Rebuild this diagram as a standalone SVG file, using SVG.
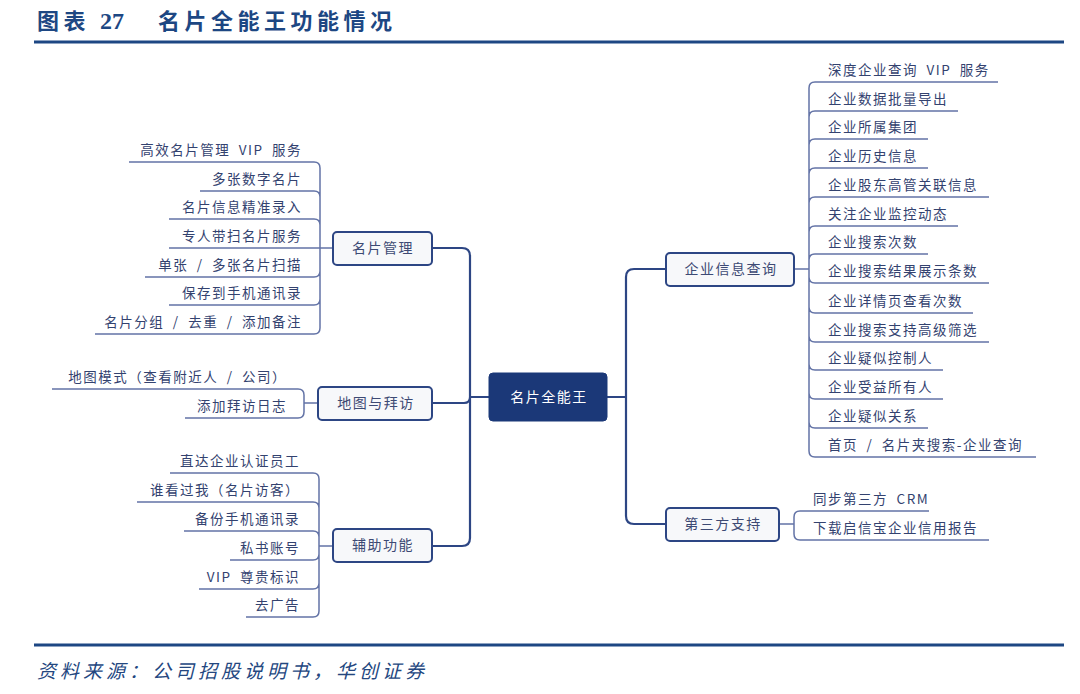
<svg xmlns="http://www.w3.org/2000/svg" width="1080" height="694" viewBox="0 0 1080 694">
<style>
.title{font-family:"Liberation Serif","Noto Sans CJK SC",serif;font-size:22px;font-weight:bold;fill:#1d4783;letter-spacing:4.5px}
.num{letter-spacing:0px;font-size:24px}
.rule{stroke:#1d4783;stroke-width:3;fill:none}
.foot{font-family:"Noto Sans CJK SC",sans-serif;font-size:19px;font-style:italic;fill:#24477f;letter-spacing:4px}
.trunk{stroke:#2d4684;stroke-width:2.2;fill:none}
.leaf{stroke:#6373a6;stroke-width:1.5;fill:none}
.box{fill:#f7f8fa;stroke:#2d4684;stroke-width:2}
.root{fill:#1b3878;stroke:#1b3878;stroke-width:1}
.bt{font-family:"Noto Sans CJK SC",sans-serif;font-size:14px;fill:#3d4a74;letter-spacing:1.5px;text-anchor:middle}
.rt{font-family:"Noto Sans CJK SC",sans-serif;font-size:14px;fill:#ffffff;letter-spacing:1.5px;text-anchor:middle}
.lt{font-family:"Noto Sans CJK SC",sans-serif;font-size:13.5px;fill:#33426f;letter-spacing:1.5px;word-spacing:4px}
.l{text-anchor:end}
</style>
<text class="title" x="37" y="29">图表</text>
<text class="title num" x="100" y="29">27</text>
<text class="title" x="158" y="29">名片全能王功能情况</text>
<line class="rule" x1="34" y1="42" x2="1064" y2="42"/>
<line class="rule" x1="34" y1="645" x2="1064" y2="645"/>
<text class="foot" x="37" y="678">资料来源：公司招股说明书，华创证券</text>

<g id="connectors">
<path class="trunk" d="M489 397 H470 M470 397 V256 Q470 248 462 248 H432 M470 397 Q470 403 464 403 H432 M470 397 V538 Q470 546 462 546 H432"/>
<path class="trunk" d="M607 397 H626 M626 397 V277 Q626 269 634 269 H666 M626 397 V516 Q626 524 634 524 H666"/>
<path class="leaf" d="M320 248 V168 Q320 162 314 162 H129 M320 248 V197 Q320 191 314 191 H200 M320 248 V225 Q320 219 314 219 H169 M333 248 H169 M320 248 V271 Q320 277 314 277 H145 M320 248 V299 Q320 305 314 305 H169 M320 248 V328 Q320 334 314 334 H95"/>
<path class="leaf" d="M318 403 H304 M304 403 V395 Q304 389 298 389 H52 M304 403 V412 Q304 418 298 418 H185"/>
<path class="leaf" d="M333 546 H319 M319 546 V479 Q319 473 313 473 H170 M319 546 V508 Q319 502 313 502 H137 M319 546 V537 Q319 531 313 531 H184 M319 546 V554 Q319 560 313 560 H230 M319 546 V583 Q319 589 313 589 H199 M319 546 V611 Q319 617 313 617 H246"/>
<path class="leaf" d="M794 269 H809 M809 269 V88 Q809 82 815 82 H998 M809 269 V117 Q809 111 815 111 H958 M809 269 V145 Q809 139 815 139 H928 M809 269 V174 Q809 168 815 168 H928 M809 269 V203 Q809 197 815 197 H989 M809 269 V232 Q809 226 815 226 H958 M809 269 V260 Q809 254 815 254 H928 M809 269 V277 Q809 283 815 283 H989 M809 269 V307 Q809 313 815 313 H973 M809 269 V336 Q809 342 815 342 H989 M809 269 V364 Q809 370 815 370 H943 M809 269 V393 Q809 399 815 399 H943 M809 269 V422 Q809 428 815 428 H928 M809 269 V451 Q809 457 815 457 H1036"/>
<path class="leaf" d="M779 524 H794 M794 524 V517 Q794 511 800 511 H929 M794 524 V534 Q794 540 800 540 H989"/>
</g>

<g id="root">
<rect class="root" x="489" y="373" width="118" height="48" rx="4"/>
<text class="rt" x="549" y="402">名片全能王</text>
</g>

<g id="mingpian">
<rect class="box" x="333" y="232" width="99" height="33" rx="4"/>
<text class="bt" x="383" y="253">名片管理</text>
<text class="lt l" x="302" y="155">高效名片管理 VIP 服务</text>
<text class="lt l" x="302" y="184">多张数字名片</text>
<text class="lt l" x="302" y="212">名片信息精准录入</text>
<text class="lt l" x="302" y="241">专人带扫名片服务</text>
<text class="lt l" x="302" y="270">单张 / 多张名片扫描</text>
<text class="lt l" x="302" y="298">保存到手机通讯录</text>
<text class="lt l" x="302" y="327">名片分组 / 去重 / 添加备注</text>
</g>

<g id="ditu">
<rect class="box" x="318" y="387" width="114" height="33" rx="4"/>
<text class="bt" x="376" y="408">地图与拜访</text>
<text class="lt l" x="287" y="382">地图模式（查看附近人 / 公司）</text>
<text class="lt l" x="287" y="411">添加拜访日志</text>
</g>

<g id="fuzhu">
<rect class="box" x="333" y="529" width="99" height="33" rx="4"/>
<text class="bt" x="383" y="550">辅助功能</text>
<text class="lt l" x="300" y="466">直达企业认证员工</text>
<text class="lt l" x="300" y="495">谁看过我（名片访客）</text>
<text class="lt l" x="300" y="524">备份手机通讯录</text>
<text class="lt l" x="300" y="553">私书账号</text>
<text class="lt l" x="300" y="582">VIP 尊贵标识</text>
<text class="lt l" x="300" y="610">去广告</text>
</g>

<g id="qiye">
<rect class="box" x="666" y="253" width="128" height="33" rx="4"/>
<text class="bt" x="731" y="274">企业信息查询</text>
<text class="lt" x="828" y="75">深度企业查询 VIP 服务</text>
<text class="lt" x="828" y="104">企业数据批量导出</text>
<text class="lt" x="828" y="132">企业所属集团</text>
<text class="lt" x="828" y="161">企业历史信息</text>
<text class="lt" x="828" y="190">企业股东高管关联信息</text>
<text class="lt" x="828" y="219">关注企业监控动态</text>
<text class="lt" x="828" y="247">企业搜索次数</text>
<text class="lt" x="828" y="276">企业搜索结果展示条数</text>
<text class="lt" x="828" y="306">企业详情页查看次数</text>
<text class="lt" x="828" y="335">企业搜索支持高级筛选</text>
<text class="lt" x="828" y="363">企业疑似控制人</text>
<text class="lt" x="828" y="392">企业受益所有人</text>
<text class="lt" x="828" y="421">企业疑似关系</text>
<text class="lt" x="828" y="450">首页 / 名片夹搜索-企业查询</text>
</g>

<g id="disanfang">
<rect class="box" x="666" y="508" width="113" height="33" rx="4"/>
<text class="bt" x="723" y="529">第三方支持</text>
<text class="lt" x="813" y="504">同步第三方 CRM</text>
<text class="lt" x="813" y="533">下载启信宝企业信用报告</text>
</g>
</svg>
